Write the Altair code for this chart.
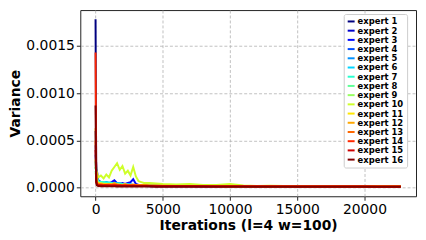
import altair as alt
import pandas as pd

iterations = [0, 50, 100, 200, 400, 600, 800, 1000, 1200, 1400, 1600, 1800, 2000, 2200, 2400,
              2600, 2800, 3000, 3200, 3400, 3600, 3800, 4000, 4500, 5000, 6000, 7000, 8000, 9000,
              10000, 11000, 12000, 13000, 14000, 15000, 16000, 17000, 18000, 19000, 20000, 21000,
              22000, 22700]

# variance values in units of 1e-5
e1 = [178, 10, 4, 3, 3, 2.5, 2.5, 2, 2.5, 2, 2, 2, 2.5, 2, 2, 2, 2, 2, 1.8, 1.8, 1.8, 1.8, 1.7, 1.7, 1.6, 1.6, 1.5, 1.5, 1.5, 1.5, 1.4, 1.4, 1.4, 1.4, 1.3, 1.3, 1.3, 1.3, 1.3, 1.2, 1.2, 1.2, 1.2]
e2 = [60, 15, 6, 4, 4, 3, 3, 3.5, 3, 3, 3, 2.5, 3, 2.5, 2.5, 2.5, 2.5, 2.5, 2, 2, 2, 2, 2, 2, 2, 1.8, 1.8, 1.7, 1.7, 1.6, 1.6, 1.5, 1.5, 1.5, 1.5, 1.4, 1.4, 1.4, 1.4, 1.3, 1.3, 1.3, 1.3]
e3 = [45, 20, 18, 8, 6, 5, 4, 5, 6, 8, 5, 4, 5, 4, 5, 6, 9, 4, 3, 3, 2.5, 2.5, 2.5, 2.5, 2.2, 2, 2, 2, 1.8, 1.8, 1.8, 1.7, 1.9, 1.7, 1.6, 1.6, 1.5, 1.5, 1.5, 1.5, 1.4, 1.4, 1.4]
e4 = [35, 12, 7, 5, 4.5, 4, 4, 3.5, 4, 4, 3.5, 3.5, 3, 3, 3.5, 3, 3, 3, 2.5, 2.5, 2.5, 2.5, 2.2, 2.2, 2, 2, 1.9, 1.9, 1.8, 1.8, 1.7, 1.7, 1.6, 1.6, 1.6, 1.5, 1.5, 1.5, 1.4, 1.4, 1.4, 1.4, 1.4]
e5 = [28, 14, 9, 6, 5, 5, 6, 5, 4, 5, 4, 5, 4, 3.5, 4, 3.5, 3, 3, 3, 2.5, 2.5, 2.5, 2.5, 2.2, 2.2, 2, 2, 1.9, 1.8, 1.8, 1.7, 1.8, 1.7, 1.6, 1.6, 1.5, 1.5, 1.5, 1.6, 1.4, 1.4, 1.4, 1.4]
e6 = [22, 16, 10, 6, 6, 5, 6, 5, 5, 4.5, 5, 4, 4, 4, 3.5, 3.5, 3, 3, 3, 2.5, 2.5, 2.5, 2.5, 2.3, 2.2, 2, 2, 1.9, 1.9, 1.8, 1.8, 1.7, 1.7, 1.6, 1.6, 1.6, 1.5, 1.5, 1.5, 1.5, 1.4, 1.4, 1.4]
e7 = [20, 22, 12, 7, 6, 6, 5, 5.5, 5, 4.5, 4, 4.5, 4, 3.5, 3.5, 3, 3, 3, 2.8, 2.6, 2.5, 2.4, 2.3, 2.2, 2.1, 2, 1.9, 1.9, 1.8, 1.8, 1.7, 1.7, 1.7, 1.6, 1.6, 1.6, 1.5, 1.5, 1.5, 1.5, 1.4, 1.4, 1.4]
e8 = [18, 14, 9, 5, 5, 4.5, 4, 4, 4, 3.5, 3.5, 3.5, 3, 3, 3, 3, 2.8, 2.8, 2.6, 2.5, 2.4, 2.3, 2.2, 2.2, 2.1, 2, 1.9, 1.8, 1.8, 1.7, 1.7, 1.7, 1.6, 1.6, 1.6, 1.5, 1.5, 1.5, 1.5, 1.4, 1.4, 1.4, 1.4]
e9 = [16, 12, 8, 5, 4.5, 4, 4, 3.8, 3.5, 3.5, 3.3, 3.2, 3, 3, 2.9, 2.8, 2.7, 2.6, 2.5, 2.5, 2.4, 2.3, 2.2, 2.1, 2, 2, 1.9, 1.8, 1.8, 1.7, 1.7, 1.6, 1.6, 1.6, 1.5, 1.5, 1.5, 1.5, 1.4, 1.4, 1.4, 1.4, 1.4]
e10 = [22, 18, 16, 11, 13, 10, 14, 11, 18, 22, 26, 19, 23, 15, 18, 13, 22, 12, 7, 6, 5, 5, 5, 4.5, 4, 3.5, 4, 3, 3, 4, 2.5, 2, 2.2, 1.8, 1.8, 1.6, 1.5, 1.8, 1.4, 1.5, 1.4, 1.3, 1.3]
e11 = [30, 10, 6, 5, 4.5, 4, 4, 4, 3.5, 3.5, 3.5, 3, 3, 3, 3, 2.8, 2.8, 2.6, 2.5, 2.5, 2.4, 2.3, 2.2, 2.1, 2, 2, 1.9, 1.8, 1.8, 1.7, 1.7, 1.6, 1.6, 1.6, 1.5, 1.5, 1.5, 1.5, 1.4, 1.4, 1.4, 1.4, 1.4]
e12 = [63, 12, 6, 4, 4, 3.5, 3.5, 4, 3.5, 5, 3.5, 3, 3, 4, 3, 3, 3.5, 3, 2.8, 3, 2.5, 2.5, 2.4, 2.2, 2.1, 2, 2, 1.9, 1.8, 1.8, 1.7, 1.7, 1.6, 1.6, 1.5, 1.5, 1.5, 1.5, 1.4, 1.4, 1.4, 1.3, 1.3]
e13 = [50, 10, 5, 3.5, 3.5, 3, 3, 3, 3, 3.5, 3, 3, 2.8, 3, 2.8, 2.6, 3, 2.6, 2.5, 2.4, 2.3, 2.3, 2.2, 2.1, 2, 1.9, 1.9, 1.8, 1.7, 1.7, 1.6, 1.6, 1.6, 1.5, 1.5, 1.5, 1.4, 1.4, 1.4, 1.4, 1.3, 1.3, 1.3]
e14 = [143, 8, 4, 3, 3, 2.8, 2.8, 3, 2.6, 3, 2.6, 2.5, 2.5, 2.6, 2.4, 2.4, 2.5, 2.3, 2.2, 2.2, 2.1, 2.1, 2, 2, 1.9, 1.8, 1.8, 1.7, 1.7, 1.6, 1.6, 1.5, 1.5, 1.5, 1.4, 1.4, 1.4, 1.4, 1.3, 1.3, 1.3, 1.3, 1.3]
e15 = [40, 7, 3.5, 2.5, 2.5, 2.3, 2.3, 2.2, 2.2, 2.2, 2.1, 2.1, 2, 2, 2, 2, 2, 1.9, 1.9, 1.9, 1.8, 1.8, 1.8, 1.7, 1.7, 1.6, 1.6, 1.6, 1.5, 1.5, 1.5, 1.4, 1.4, 1.4, 1.4, 1.3, 1.3, 1.3, 1.3, 1.3, 1.2, 1.2, 1.2]
e16 = [87, 6, 2.5, 1.8, 1.6, 1.6, 1.5, 1.5, 1.5, 1.5, 1.4, 1.4, 1.4, 1.4, 1.4, 1.4, 1.4, 1.3, 1.3, 1.3, 1.3, 1.3, 1.3, 1.2, 1.2, 1.2, 1.2, 1.2, 1.1, 1.1, 1.1, 1.1, 1.1, 1.1, 1.0, 1.0, 1.0, 1.0, 1.0, 1.0, 1.0, 1.0, 1.0]

series = [e1, e2, e3, e4, e5, e6, e7, e8, e9, e10, e11, e12, e13, e14, e15, e16]
names = [f"expert {i}" for i in range(1, 17)]
colors = ["#000080", "#0000cd", "#0008ff", "#004cff", "#0090ff", "#00d4ff", "#29ffce", "#60ff97",
          "#97ff60", "#ceff29", "#ffe600", "#ffa700", "#ff6800", "#ff2900", "#cd0000", "#800000"]

rows = []
for k, (name, vals) in enumerate(zip(names, series)):
    n = min(len(vals), len(iterations))
    for i in range(n):
        rows.append({"expert": name, "order": k, "iter": iterations[i], "var": vals[i] * 1e-5})
df = pd.DataFrame(rows)

font = "DejaVu Sans"

chart = alt.Chart(df).mark_line(strokeWidth=2, clip=True).encode(
    x=alt.X("iter:Q",
            scale=alt.Scale(domain=[-1135, 23835], nice=False, zero=False),
            axis=alt.Axis(title="Iterations (l=4 w=100)", values=[0, 5000, 10000, 15000, 20000],
                          format="d")),
    y=alt.Y("var:Q",
            scale=alt.Scale(domain=[-0.0000894, 0.001877], nice=False, zero=False),
            axis=alt.Axis(title="Variance", values=[0, 0.0005, 0.001, 0.0015], format=".4f")),
    color=alt.Color("expert:N",
                    scale=alt.Scale(domain=names, range=colors),
                    legend=alt.Legend(title=None, orient="none", legendX=266, legendY=4,
                                      symbolType="stroke", symbolStrokeWidth=2, symbolSize=49,
                                      labelFont=font, labelFontWeight="bold", labelFontSize=8.5,
                                      labelColor="black", rowPadding=0.3, labelOffset=2,
                                      fillColor="white", strokeColor="#cccccc", padding=3,
                                      cornerRadius=2)),
    order=alt.Order("order:Q"),
).properties(
    width=339,
    height=188,
    autosize=alt.AutoSizeParams(type="none"),
    padding={"left": 73, "top": 1, "right": 2, "bottom": 35},
).configure_view(
    stroke="#222222", strokeWidth=1
).configure_axis(
    labelFont=font, labelFontSize=14, labelColor="black",
    titleFont=font, titleFontSize=14, titleFontWeight="bold", titleColor="black",
    domain=False, tickColor="#222222", tickSize=4, labelPadding=2,
    grid=True, gridColor="#b0b0b0", gridDash=[3, 2], gridWidth=0.8,
).configure_axisY(titlePadding=3).configure_axisX(titlePadding=3)

chart.save("out.html", embed_options={"renderer": "svg", "actions": False})
